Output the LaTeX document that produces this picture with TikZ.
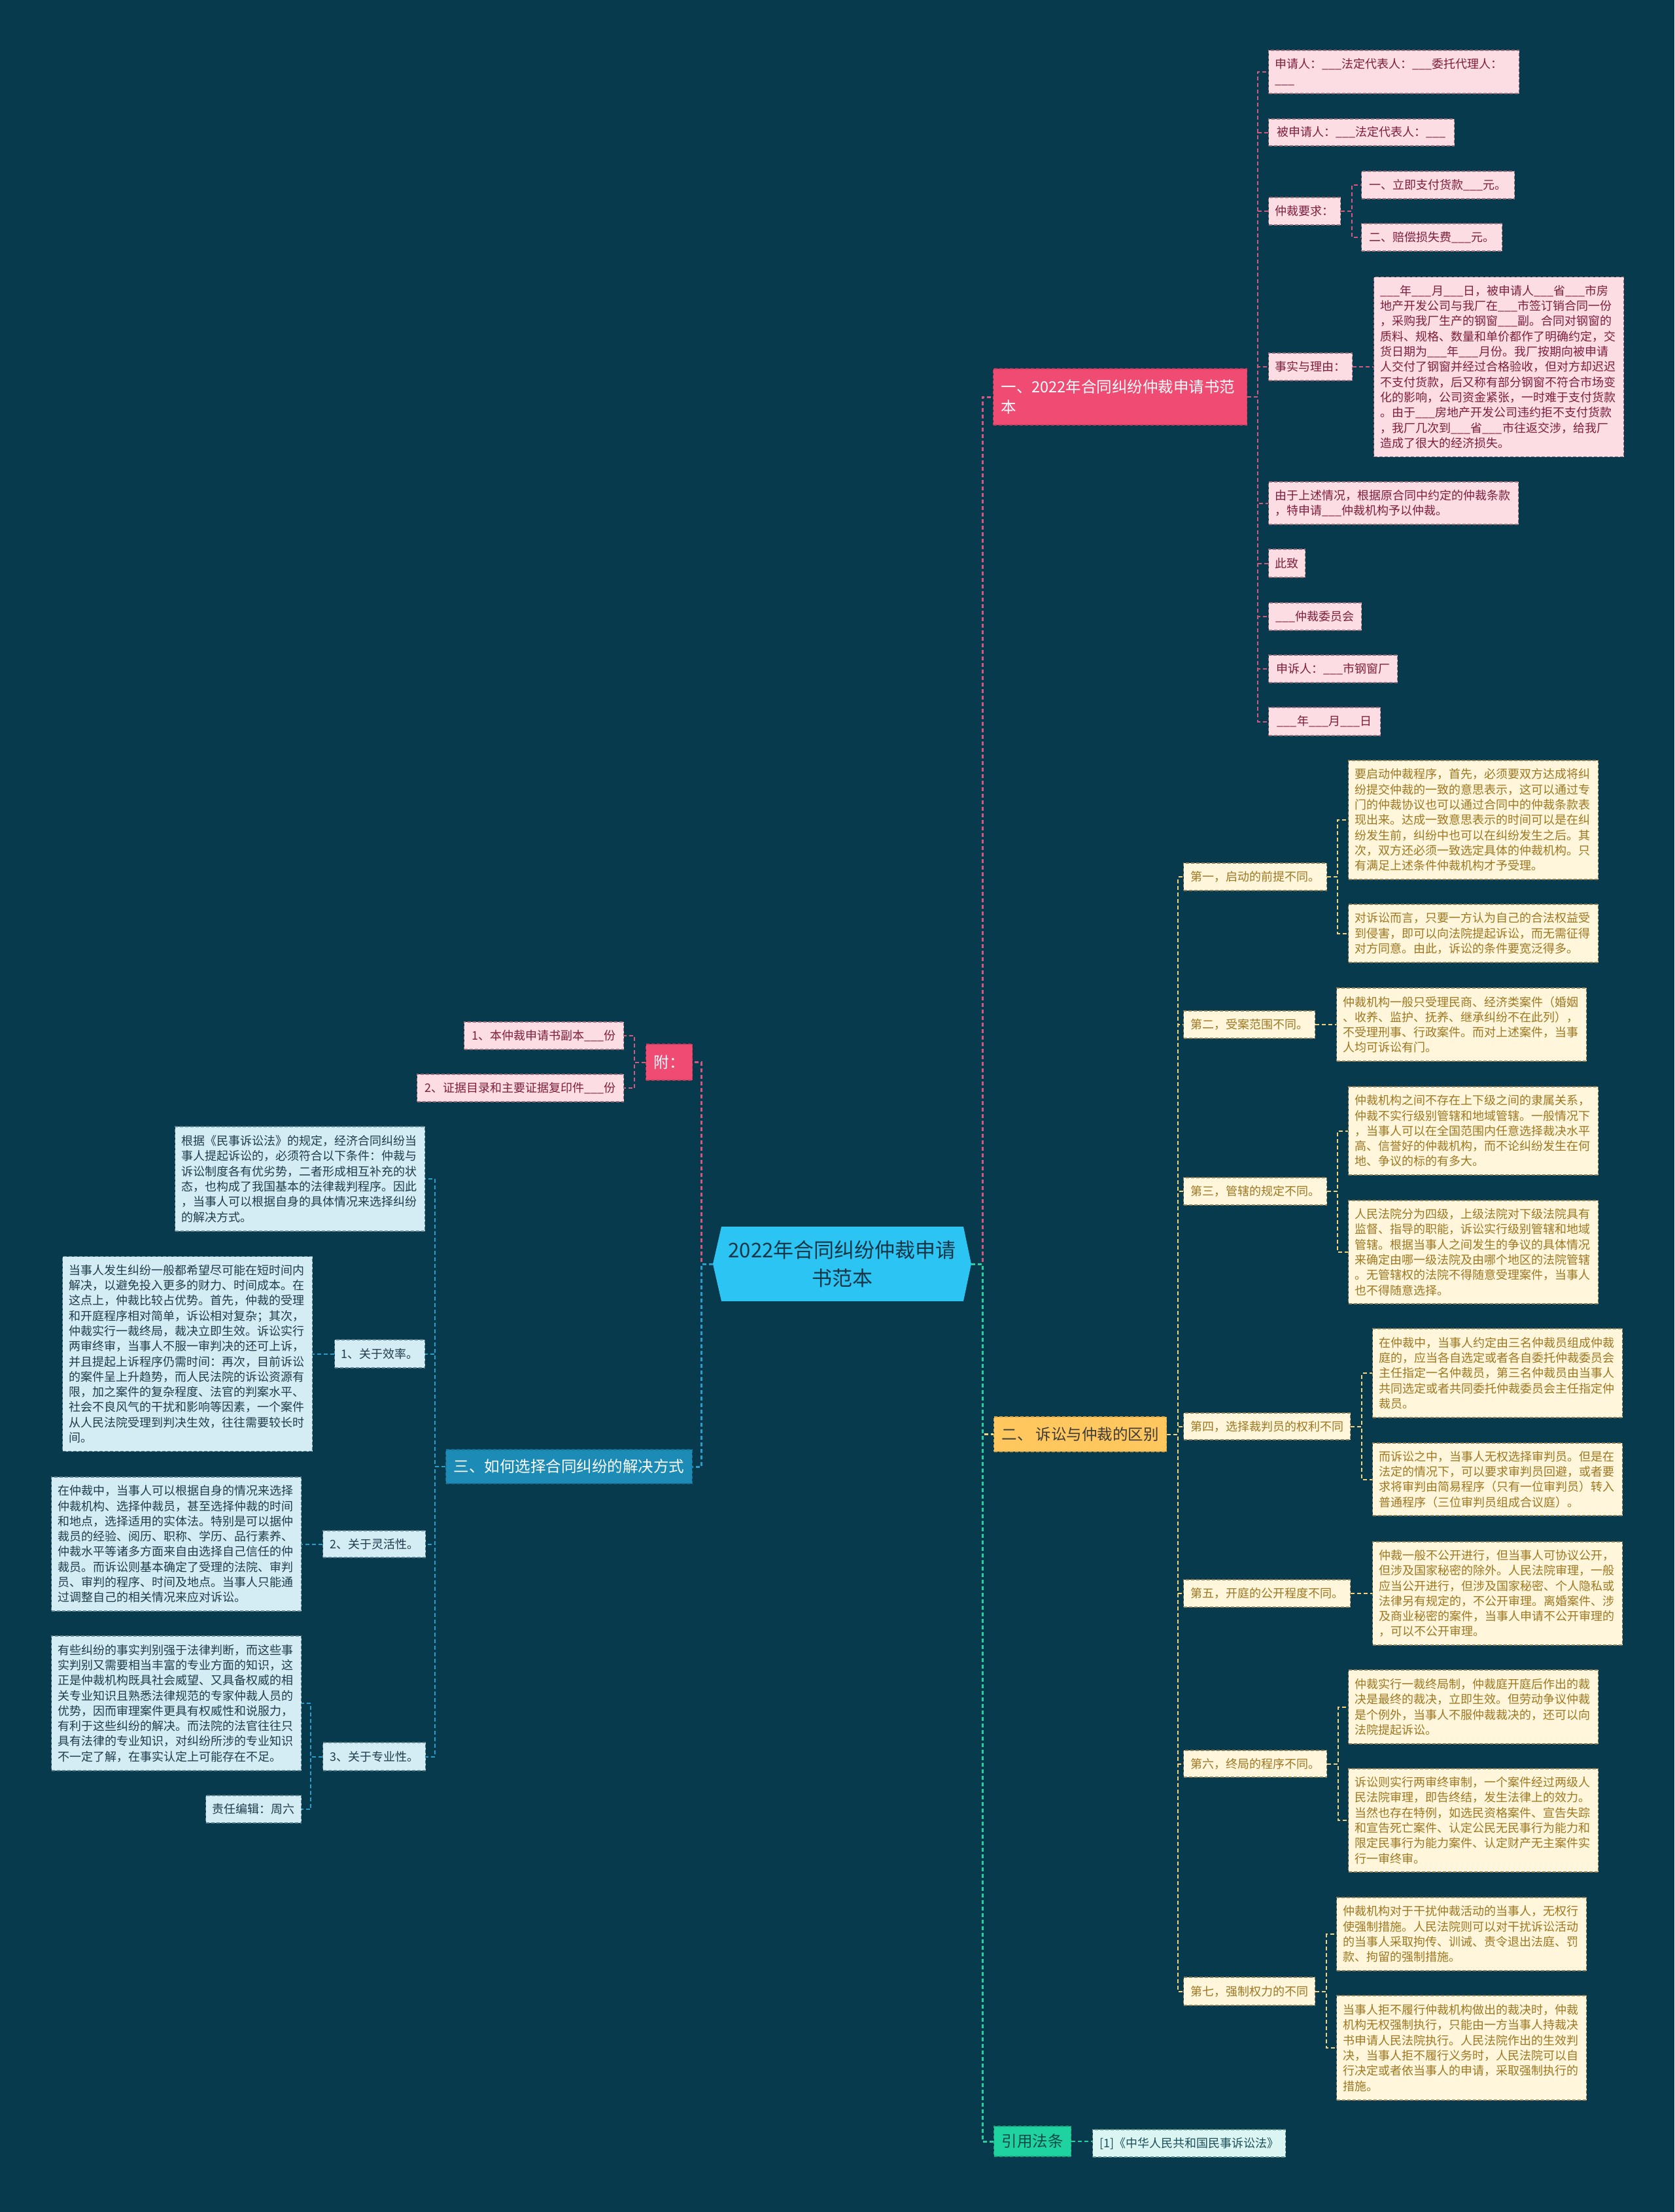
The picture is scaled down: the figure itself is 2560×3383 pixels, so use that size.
\documentclass[tikz,border=0pt]{standalone}
\usepackage{fontspec}
\setmainfont{Noto Sans CJK SC}
\newcommand\fsA{\fontsize{18pt}{23.3pt}\selectfont}
\newcommand\fsB{\fontsize{23.5pt}{30.6pt}\selectfont}
\newcommand\fsC{\fontsize{31pt}{42.5pt}\selectfont}
\definecolor{bg}{HTML}{083A4D}
\definecolor{pkM}{HTML}{EF4B73}
\definecolor{pkMD}{HTML}{C23A5C}
\definecolor{pkF}{HTML}{FCDDE4}
\definecolor{pkD}{HTML}{9E6F7B}
\definecolor{pkT}{HTML}{7E1E3C}
\definecolor{ylM}{HTML}{FFC75E}
\definecolor{ylMD}{HTML}{D9A443}
\definecolor{ylMT}{HTML}{3B3B3B}
\definecolor{crF}{HTML}{FFF6DC}
\definecolor{crD}{HTML}{8E7D55}
\definecolor{crT}{HTML}{9E7721}
\definecolor{blM}{HTML}{1C8CB7}
\definecolor{blMD}{HTML}{166F92}
\definecolor{lbF}{HTML}{D4ECF4}
\definecolor{lbD}{HTML}{5F808C}
\definecolor{lbT}{HTML}{1F3C4B}
\definecolor{cen}{HTML}{2CC4F2}
\definecolor{cenT}{HTML}{163546}
\definecolor{grM}{HTML}{1FD3A1}
\definecolor{grMD}{HTML}{17A47D}
\definecolor{grT}{HTML}{0E4A48}
\definecolor{gF}{HTML}{DBF6F2}
\definecolor{gD}{HTML}{5E8C86}
\definecolor{gT}{HTML}{1C4E5A}
\definecolor{lnPk}{HTML}{D2587F}
\definecolor{lnYl}{HTML}{F3D27B}
\definecolor{lnBl}{HTML}{2A9DC9}
\definecolor{lnGr}{HTML}{25CFA0}
\begin{document}
\begin{tikzpicture}[x=1pt,y=-1pt,
  base/.style={anchor=west, inner xsep=10pt, inner ysep=3pt, font=\fsA, dash pattern=on 5pt off 3pt, line width=1.2pt},
  pk/.style={base, fill=pkF, draw=pkD, text=pkT},
  cr/.style={base, fill=crF, draw=crD, text=crT},
  lb/.style={base, fill=lbF, draw=lbD, text=lbT},
  gb/.style={base, fill=gF, draw=gD, text=gT},
  mainb/.style={anchor=west, inner xsep=12pt, inner ysep=3pt, font=\fsB, dash pattern=on 5pt off 3pt, line width=1.2pt},
  big/.style={text width=362pt, align=left},
  sz/.style 2 args={minimum width=#1pt, minimum height=#2pt},
  mh/.style={minimum height=#1pt},
  conn/.style={line width=2pt, dash pattern=on 6pt off 4pt},
  trunk/.style={line width=3pt},
  cpk/.style={conn, draw=lnPk},
  cyl/.style={conn, draw=lnYl},
  cbl/.style={conn, draw=lnBl},
  cgr/.style={conn, draw=lnGr}]
\useasboundingbox (0,0) rectangle (2560,3383);
\fill[bg] (0,0) rectangle (2560,3383);

% centre
\fill[cen] (1090,1933) -- (1103,1876) -- (1473,1876) -- (1485,1933) -- (1473,1990) -- (1103,1990) -- cycle;
\node[font=\fsC, text=cenT, align=center, minimum width=395pt, minimum height=114pt, inner sep=0pt] (c) at (1287.5,1933) {2022年合同纠纷仲裁申请\\书范本};

% ---------- branch 1 (pink) ----------
\node[mainb, fill=pkM, draw=pkMD, text=white, text width=364pt, align=left, mh=86] (mp) at (1518,607) {一、2022年合同纠纷仲裁申请书范\\本};
\node[pk, text width=363pt, align=left, mh=66] (p1) at (1939,110) {申请人：\_\_\_法定代表人：\_\_\_委托代理人：\\\_\_\_};
\node[pk, sz={284}{41}] (p2) at (1939,202.5) {被申请人：\_\_\_法定代表人：\_\_\_};
\node[pk, sz={109}{42}] (p3) at (1939,323) {仲裁要求：};
\node[pk, sz={234}{42}] (p3a) at (2081,283) {一、立即支付货款\_\_\_元。};
\node[pk, sz={215}{42}] (p3b) at (2081,363) {二、赔偿损失费\_\_\_元。};
\node[pk, sz={127}{42}] (p4) at (1939,561) {事实与理由：};
\node[pk, big, mh=275] (p4a) at (2100,561) {\_\_\_年\_\_\_月\_\_\_日，被申请人\_\_\_省\_\_\_市房\\
地产开发公司与我厂在\_\_\_市签订销合同一份\\
，采购我厂生产的钢窗\_\_\_副。合同对钢窗的\\
质料、规格、数量和单价都作了明确约定，交\\
货日期为\_\_\_年\_\_\_月份。我厂按期向被申请\\
人交付了钢窗并经过合格验收，但对方却迟迟\\
不支付货款，后又称有部分钢窗不符合市场变\\
化的影响，公司资金紧张，一时难于支付货款\\
。由于\_\_\_房地产开发公司违约拒不支付货款\\
，我厂几次到\_\_\_省\_\_\_市往返交涉，给我厂\\
造成了很大的经济损失。};
\node[pk, big, mh=65] (p5) at (1939,769.5) {由于上述情况，根据原合同中约定的仲裁条款\\，特申请\_\_\_仲裁机构予以仲裁。};
\node[pk, sz={55}{43}] (p6) at (1939,861.5) {此致};
\node[pk, sz={142}{42}] (p7) at (1939,943) {\_\_\_仲裁委员会};
\node[pk, sz={197}{42}] (p8) at (1939,1023) {申诉人：\_\_\_市钢窗厂};
\node[pk, sz={171}{43}] (p9) at (1939,1103.5) {\_\_\_年\_\_\_月\_\_\_日};

% ---------- branch 2 (yellow) ----------
\node[mainb, fill=ylM, draw=ylMD, text=ylMT, sz={257}{53}] (y0) at (1519,2193.5) {二、 诉讼与仲裁的区别};
\node[cr, sz={219}{42}] (y1) at (1809,1341) {第一，启动的前提不同。};
\node[cr, big, mh=182] (y1a) at (2061,1254) {要启动仲裁程序，首先，必须要双方达成将纠\\
纷提交仲裁的一致的意思表示，这可以通过专\\
门的仲裁协议也可以通过合同中的仲裁条款表\\
现出来。达成一致意思表示的时间可以是在纠\\
纷发生前，纠纷中也可以在纠纷发生之后。其\\
次，双方还必须一致选定具体的仲裁机构。只\\
有满足上述条件仲裁机构才予受理。};
\node[cr, big, mh=89] (y1b) at (2061,1427.5) {对诉讼而言，只要一方认为自己的合法权益受\\
到侵害，即可以向法院提起诉讼，而无需征得\\
对方同意。由此，诉讼的条件要宽泛得多。};
\node[cr, sz={201}{42}] (y2) at (1809,1567) {第二，受案范围不同。};
\node[cr, big, mh=112] (y2a) at (2043,1567) {仲裁机构一般只受理民商、经济类案件（婚姻\\
、收养、监护、抚养、继承纠纷不在此列），\\
不受理刑事、行政案件。而对上述案件，当事\\
人均可诉讼有门。};
\node[cr, sz={219}{42}] (y3) at (1809,1822) {第三，管辖的规定不同。};
\node[cr, big, mh=135] (y3a) at (2061,1729.5) {仲裁机构之间不存在上下级之间的隶属关系，\\
仲裁不实行级别管辖和地域管辖。一般情况下\\
，当事人可以在全国范围内任意选择裁决水平\\
高、信誉好的仲裁机构，而不论纠纷发生在何\\
地、争议的标的有多大。};
\node[cr, big, mh=158] (y3b) at (2061,1915) {人民法院分为四级，上级法院对下级法院具有\\
监督、指导的职能，诉讼实行级别管辖和地域\\
管辖。根据当事人之间发生的争议的具体情况\\
来确定由哪一级法院及由哪个地区的法院管辖\\
。无管辖权的法院不得随意受理案件，当事人\\
也不得随意选择。};
\node[cr, sz={255}{41}] (y4) at (1809,2181.5) {第四，选择裁判员的权利不同};
\node[cr, big, mh=136] (y4a) at (2098,2100) {在仲裁中，当事人约定由三名仲裁员组成仲裁\\
庭的，应当各自选定或者各自委托仲裁委员会\\
主任指定一名仲裁员，第三名仲裁员由当事人\\
共同选定或者共同委托仲裁委员会主任指定仲\\
裁员。};
\node[cr, big, mh=111] (y4b) at (2098,2262.5) {而诉讼之中，当事人无权选择审判员。但是在\\
法定的情况下，可以要求审判员回避，或者要\\
求将审判由简易程序（只有一位审判员）转入\\
普通程序（三位审判员组成合议庭）。};
\node[cr, sz={255}{42}] (y5) at (1809,2437) {第五，开庭的公开程度不同。};
\node[cr, big, mh=158] (y5a) at (2098,2437) {仲裁一般不公开进行，但当事人可协议公开，\\
但涉及国家秘密的除外。人民法院审理，一般\\
应当公开进行，但涉及国家秘密、个人隐私或\\
法律另有规定的，不公开审理。离婚案件、涉\\
及商业秘密的案件，当事人申请不公开审理的\\
，可以不公开审理。};
\node[cr, sz={219}{41}] (y6) at (1809,2697.5) {第六，终局的程序不同。};
\node[cr, big, mh=113] (y6a) at (2061,2610.5) {仲裁实行一裁终局制，仲裁庭开庭后作出的裁\\
决是最终的裁决，立即生效。但劳动争议仲裁\\
是个例外，当事人不服仲裁裁决的，还可以向\\
法院提起诉讼。};
\node[cr, big, mh=158] (y6b) at (2061,2784) {诉讼则实行两审终审制，一个案件经过两级人\\
民法院审理，即告终结，发生法律上的效力。\\
当然也存在特例，如选民资格案件、宣告失踪\\
和宣告死亡案件、认定公民无民事行为能力和\\
限定民事行为能力案件、认定财产无主案件实\\
行一审终审。};
\node[cr, sz={201}{43}] (y7) at (1809,3045.5) {第七，强制权力的不同};
\node[cr, big, mh=112] (y7a) at (2043,2958) {仲裁机构对于干扰仲裁活动的当事人，无权行\\
使强制措施。人民法院则可以对干扰诉讼活动\\
的当事人采取拘传、训诫、责令退出法庭、罚\\
款、拘留的强制措施。};
\node[cr, big, mh=160] (y7b) at (2043,3132) {当事人拒不履行仲裁机构做出的裁决时，仲裁\\
机构无权强制执行，只能由一方当事人持裁决\\
书申请人民法院执行。人民法院作出的生效判\\
决，当事人拒不履行义务时，人民法院可以自\\
行决定或者依当事人的申请，采取强制执行的\\
措施。};

% ---------- references (green) ----------
\node[mainb, fill=grM, draw=grMD, text=grT, sz={117}{46}] (g0) at (1519,3275) {引用法条};
\node[gb, sz={295}{42}] (g1) at (1670,3278) {[1]《中华人民共和国民事诉讼法》};

% ---------- left: 附 ----------
\node[mainb, fill=pkM, draw=pkMD, text=white, sz={71}{55}] (fu) at (987,1624.5) {附：};
\node[pk, sz={244}{42}] (f1) at (709,1584) {1、本仲裁申请书副本\_\_\_份};
\node[pk, sz={316}{42}] (f2) at (637,1664) {2、证据目录和主要证据复印件\_\_\_份};

% ---------- left: 三 ----------
\node[mainb, fill=blM, draw=blMD, text=white, sz={376}{52}] (s0) at (681,2243) {三、如何选择合同纠纷的解决方式};
\node[lb, big, mh=160] (sa) at (267,1803) {根据《民事诉讼法》的规定，经济合同纠纷当\\
事人提起诉讼的，必须符合以下条件：仲裁与\\
诉讼制度各有优劣势，二者形成相互补充的状\\
态，也构成了我国基本的法律裁判程序。因此\\
，当事人可以根据自身的具体情况来选择纠纷\\
的解决方式。};
\node[lb, sz={138}{43}] (s1) at (511,2070.5) {1、关于效率。};
\node[lb, big, mh=298] (s1a) at (95,2070.5) {当事人发生纠纷一般都希望尽可能在短时间内\\
解决，以避免投入更多的财力、时间成本。在\\
这点上，仲裁比较占优势。首先，仲裁的受理\\
和开庭程序相对简单，诉讼相对复杂；其次，\\
仲裁实行一裁终局，裁决立即生效。诉讼实行\\
两审终审，当事人不服一审判决的还可上诉，\\
并且提起上诉程序仍需时间：再次，目前诉讼\\
的案件呈上升趋势，而人民法院的诉讼资源有\\
限，加之案件的复杂程度、法官的判案水平、\\
社会不良风气的干扰和影响等因素，一个案件\\
从人民法院受理到判决生效，往往需要较长时\\
间。};
\node[lb, sz={157}{41}] (s2) at (493,2361.5) {2、关于灵活性。};
\node[lb, big, mh=205] (s2a) at (78,2361.5) {在仲裁中，当事人可以根据自身的情况来选择\\
仲裁机构、选择仲裁员，甚至选择仲裁的时间\\
和地点，选择适用的实体法。特别是可以据仲\\
裁员的经验、阅历、职称、学历、品行素养、\\
仲裁水平等诸多方面来自由选择自己信任的仲\\
裁员。而诉讼则基本确定了受理的法院、审判\\
员、审判的程序、时间及地点。当事人只能通\\
过调整自己的相关情况来应对诉讼。};
\node[lb, sz={157}{43}] (s3) at (493,2686.5) {3、关于专业性。};
\node[lb, big, mh=206] (s3a) at (78,2605) {有些纠纷的事实判别强于法律判断，而这些事\\
实判别又需要相当丰富的专业方面的知识，这\\
正是仲裁机构既具社会威望、又具备权威的相\\
关专业知识且熟悉法律规范的专家仲裁人员的\\
优势，因而审理案件更具有权威性和说服力，\\
有利于这些纠纷的解决。而法院的法官往往只\\
具有法律的专业知识，对纠纷所涉的专业知识\\
不一定了解，在事实认定上可能存在不足。};
\node[lb, sz={146}{42}] (s3b) at (314,2767) {责任编辑：周六};

% ---------- connectors ----------
\draw[cpk, trunk] (c.east) -- ++(17,0) |- (mp.west);
\draw[cyl, trunk] (c.east) -- ++(17,0) |- (y0.west);
\draw[cgr, trunk] (c.east) -- ++(17,0) |- (g0.west);
\draw[cpk, trunk] (c.west) -- ++(-17,0) |- (fu.east);
\draw[cbl, trunk] (c.west) -- ++(-17,0) |- (s0.east);

\foreach \n in {p1,p2,p3,p4,p5,p6,p7,p8,p9}
  \draw[cpk] (mp.east) -- ++(16,0) |- (\n.west);
\foreach \n in {p3a,p3b}
  \draw[cpk] (p3.east) -- ++(17,0) |- (\n.west);
\draw[cpk] (p4.east) -- (p4.east -| p4a.west);

\foreach \n in {y1,y2,y3,y4,y5,y6,y7}
  \draw[cyl] (y0.east) -- ++(17,0) |- (\n.west);
\foreach \n in {y1a,y1b}
  \draw[cyl] (y1.east) -- ++(16,0) |- (\n.west);
\draw[cyl] (y2.east) -- (y2.east -| y2a.west);
\foreach \n in {y3a,y3b}
  \draw[cyl] (y3.east) -- ++(16,0) |- (\n.west);
\foreach \n in {y4a,y4b}
  \draw[cyl] (y4.east) -- ++(17,0) |- (\n.west);
\draw[cyl] (y5.east) -- (y5.east -| y5a.west);
\foreach \n in {y6a,y6b}
  \draw[cyl] (y6.east) -- ++(17,0) |- (\n.west);
\foreach \n in {y7a,y7b}
  \draw[cyl] (y7.east) -- ++(17,0) |- (\n.west);

\draw[cgr] (g0.east) -- (g0.east -| g1.west);

\foreach \n in {f1,f2}
  \draw[cpk] (fu.west) -- ++(-17,0) |- (\n.east);
\foreach \n in {sa,s1,s2,s3}
  \draw[cbl] (s0.west) -- ++(-16,0) |- (\n.east);
\draw[cbl] (s1.west) -- (s1.west -| s1a.east);
\draw[cbl] (s2.west) -- (s2.west -| s2a.east);
\foreach \n in {s3a,s3b}
  \draw[cbl] (s3.west) -- ++(-18,0) |- (\n.east);
\end{tikzpicture}
\end{document}
